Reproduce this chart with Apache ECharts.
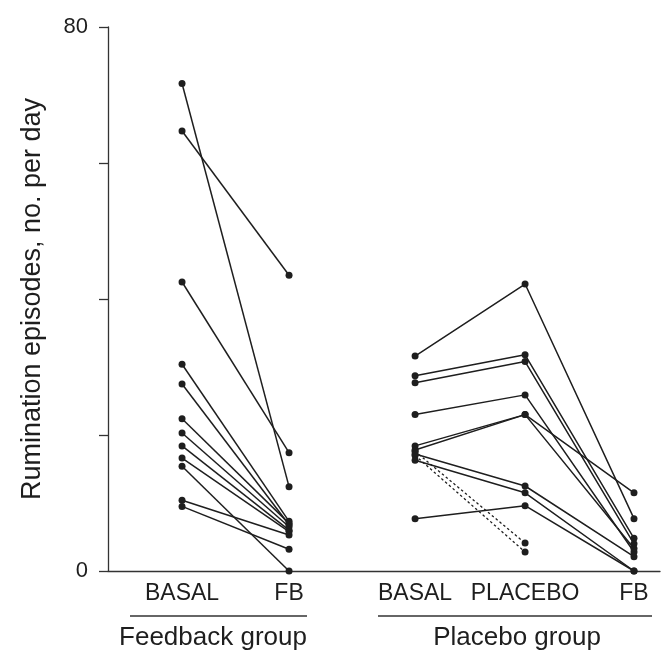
<!DOCTYPE html>
<html>
<head>
<meta charset="utf-8">
<script src="https://cdn.jsdelivr.net/npm/echarts@6/dist/echarts.min.js"></script>
<style>
  html, body { margin: 0; padding: 0; background: #fff; }
  #chart { width: 666px; height: 656px; }
</style>
</head>
<body>
<div id="chart"></div>
<script>
// Measurement occasions along the horizontal axis
const phaseLabels = ['BASAL', 'FB', 'BASAL', 'PLACEBO', 'FB'];
const groupNames = ['Feedback group', 'Placebo group'];
const yTickLabels = ['0', '80'];

// Feedback group: one entry per patient (BASAL -> FB)
const feedbackBasal = [71.7, 64.7, 42.5, 30.4, 27.5, 22.4, 20.3, 18.4, 16.6, 15.4, 10.4, 9.5];
const feedbackFB    = [12.4, 43.5, 17.4,  7.3,  6.8,  7.0,  6.5,  6.0,  5.8,  0.0,  5.3, 3.2];

// Placebo group, completers (BASAL -> PLACEBO -> FB)
const placeboBasal   = [31.6, 28.7, 27.7, 23.0, 18.4, 17.8, 17.2, 16.3, 7.7];
const placeboPlacebo = [42.2, 31.8, 30.8, 25.9, 23.0, 23.0, 12.5, 11.5, 9.6];
const placeboFB      = [ 7.7,  4.8,  4.0,  2.8, 11.5,  3.3,  2.1,  0.0, 0.0];

// Placebo group, patients without a FB phase (dashed)
const dropoutBasal   = [17.6, 17.0];
const dropoutPlacebo = [4.1, 2.8];

// Horizontal placement of the five occasions on the x value axis
const slotX = [0, 1, 2.178, 3.206, 4.224];

const ink = '#1e1e1e';
const series = [];

function addSubject(points, dashed) {
  series.push({
    type: 'line',
    data: points,
    symbol: 'circle',
    symbolSize: 7,
    showSymbol: true,
    silent: true,
    animation: false,
    itemStyle: { color: ink, borderWidth: 0 },
    lineStyle: { color: ink, width: dashed ? 1.3 : 1.5, type: dashed ? [2.5, 2.5] : 'solid' },
    z: dashed ? 2 : 3
  });
}

feedbackBasal.forEach((v, i) => {
  addSubject([[slotX[0], v], [slotX[1], feedbackFB[i]]], false);
});
placeboBasal.forEach((v, i) => {
  addSubject([[slotX[2], v], [slotX[3], placeboPlacebo[i]], [slotX[4], placeboFB[i]]], false);
});
dropoutBasal.forEach((v, i) => {
  addSubject([[slotX[2], v], [slotX[3], dropoutPlacebo[i]]], true);
});

const chart = echarts.init(document.getElementById('chart'), null, { renderer: 'canvas' });
const font = 'Liberation Sans, Arial, Helvetica, sans-serif';

chart.setOption({
  backgroundColor: '#fff',
  animation: false,
  grid: { left: 108, right: 6, top: 27, bottom: 85, containLabel: false },
  xAxis: {
    type: 'value',
    min: -0.692,
    max: 4.467,
    axisLine: { show: true, onZero: false, lineStyle: { color: '#333', width: 1.3 } },
    axisTick: { show: false },
    splitLine: { show: false },
    axisLabel: {
      customValues: slotX,
      formatter: (v) => {
        const idx = slotX.findIndex(s => Math.abs(s - v) < 1e-6);
        return idx >= 0 ? phaseLabels[idx] : '';
      },
      color: ink,
      fontFamily: font,
      fontSize: 23,
      margin: 11,
      hideOverlap: false
    }
  },
  yAxis: {
    type: 'value',
    min: 0,
    max: 80,
    interval: 20,
    name: 'Rumination episodes, no. per day',
    nameLocation: 'middle',
    nameGap: 62,
    nameTextStyle: { color: ink, fontFamily: font, fontSize: 27 },
    axisLine: { show: true, onZero: false, lineStyle: { color: '#333', width: 1.3 } },
    axisTick: { show: true, inside: false, length: 9, lineStyle: { color: '#333', width: 1.3 } },
    splitLine: { show: false },
    axisLabel: {
      formatter: (v) => (yTickLabels.indexOf(String(v)) >= 0 ? String(v) : ''),
      color: ink,
      fontFamily: font,
      fontSize: 22,
      margin: 20
    }
  },
  graphic: [
    { type: 'line', shape: { x1: 130, y1: 616, x2: 307, y2: 616 }, style: { stroke: '#333', lineWidth: 1.3 } },
    { type: 'line', shape: { x1: 378, y1: 616, x2: 652, y2: 616 }, style: { stroke: '#333', lineWidth: 1.3 } },
    { type: 'text', x: 213, y: 638, style: { text: groupNames[0], fill: ink, font: '26px ' + font, textAlign: 'center', textVerticalAlign: 'middle' } },
    { type: 'text', x: 517, y: 638, style: { text: groupNames[1], fill: ink, font: '26px ' + font, textAlign: 'center', textVerticalAlign: 'middle' } }
  ],
  series: series
});
</script>
</body>
</html>
